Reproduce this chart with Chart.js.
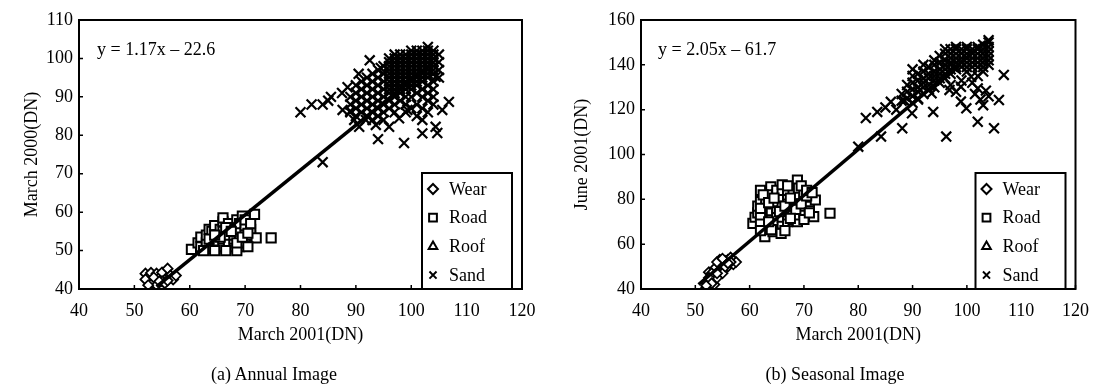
<!DOCTYPE html>
<html>
<head>
<meta charset="utf-8">
<script src="https://cdn.jsdelivr.net/npm/chart.js@4.4.1/dist/chart.umd.min.js"></script>
<style>
  body { margin: 0; background: #fff; }
  #wrap { position: relative; width: 1100px; height: 388px; font-family: "Liberation Serif", serif; color: #000; }
  canvas { position: absolute; top: 0; }
  .cap { position: absolute; top: 364px; width: 300px; font-size: 18px; text-align: center; }
</style>
</head>
<body>
<div id="wrap">
  <canvas id="annual" width="550" height="388" style="left:0"></canvas>
  <canvas id="seasonal" width="550" height="388" style="left:550px"></canvas>
  <div class="cap" style="left:124px">(a) Annual Image</div>
  <div class="cap" style="left:685px">(b) Seasonal Image</div>
</div>
<script>
// legend categories
const categories = ["Wear", "Road", "Roof", "Sand"];

// tick labels
const xTicks = [40, 50, 60, 70, 80, 90, 100, 110, 120];
const annualYTicks = [40, 50, 60, 70, 80, 90, 100, 110];
const seasonalYTicks = [40, 60, 80, 100, 120, 140, 160];

// axis titles / fit equations
const xTitle = "March 2001(DN)";
const annualYTitle = "March 2000(DN)";
const seasonalYTitle = "June 2001(DN)";
const annualEquation = "y = 1.17x \u2013 22.6";
const seasonalEquation = "y = 2.05x \u2013 61.7";

// fit line end points
const annualFit = [[54, 40.6], [104, 99]];
const seasonalFit = [[50.6, 42], [103.5, 150.5]];

// (a) annual image
const annualWear = [[52, 44], [52.5, 43], [53, 44.2], [53.5, 42], [53, 41.3], [52, 42.5], [54, 44], [54.5, 43],
  [55, 44.3], [55, 42], [54, 41], [55.5, 41.5], [56, 45.3], [56.5, 43.5], [57, 42.5], [56, 42.2],
  [57.5, 43.5], [52.5, 41], [53.5, 43], [54.5, 42]];
const annualRoad = [[60.3, 50.3], [61.5, 52], [62, 53.5], [62, 51], [63, 50.5], [63, 52], [63, 54], [63.5, 55.5],
  [64, 51], [64, 53], [64, 55], [64.5, 56.5], [65, 51], [65, 52.5], [65, 54], [65.5, 55.5], [66, 57.5],
  [66, 58.5], [66, 51], [66, 53], [66, 55], [67, 51], [67, 52], [67, 54], [67, 56], [67, 57], [68, 51],
  [68, 53], [68, 54], [68, 55], [68, 56], [68.5, 58], [69, 51], [69, 52.5], [69, 54], [69, 55.5], [69, 57],
  [69.5, 59], [70, 52], [70, 53.5], [70, 55], [70, 56.5], [70, 58], [71, 54], [71, 55.5], [71, 57],
  [71.7, 59.4], [72, 53.3], [74.7, 53.3], [62.5, 50], [64.5, 50], [66.5, 50], [68.5, 50], [70.5, 51],
  [63.5, 53], [65.5, 53.5], [66.5, 56], [67.5, 55], [68.5, 52], [69.5, 53.5], [70.5, 54.5], [64.5, 54]];
const annualRoof = [];
const annualSandScatter = [[80, 86], [82, 88], [84, 88], [85, 89], [85.5, 90], [87.5, 91], [88.5, 92.5],
  [90.5, 96], [92.5, 99.5], [94.5, 97.5], [84, 73], [94, 79], [98.7, 78], [102, 80.5], [104.7, 80.6],
  [106.8, 88.7], [105.6, 86.6], [104.4, 82.2], [96, 82.2], [97.8, 84.4], [104.4, 95.2], [99.3, 86.6],
  [93.6, 82.7], [91.8, 84], [89.7, 84], [90.6, 82.2], [87.6, 86.6], [89, 86.3]];
const annualSandColumns = [
  [89, [86, 88, 90]],
  [90, [85, 87, 89, 91, 93]],
  [91, [86, 88, 90, 92, 94]],
  [92, [85, 87, 89, 91, 93, 95]],
  [93, [84, 86, 88, 90, 92, 94, 96]],
  [94, [85, 87, 89, 91, 93, 95, 97]],
  [95, [84, 86, 88, 90, 92, 94, 96, 98]],
  [96, [87, 89, 91, 92, 93, 94, 95, 96, 97, 98, 99, 100]],
  [97, [86, 88, 90, 91, 92, 93, 94, 95, 96, 97, 98, 99, 100, 101]],
  [98, [89, 91, 92, 93, 94, 95, 96, 97, 98, 99, 100, 101]],
  [99, [86, 88, 90, 92, 93, 94, 95, 96, 97, 98, 99, 100, 101]],
  [100, [87, 90, 92, 93, 94, 95, 96, 97, 98, 99, 100, 101, 102]],
  [101, [85, 88, 91, 93, 94, 95, 96, 97, 98, 99, 100, 101, 102]],
  [102, [84, 87, 90, 92, 94, 95, 96, 97, 98, 99, 100, 101, 102]],
  [103, [86, 89, 91, 93, 95, 96, 97, 98, 99, 100, 101, 102, 103]],
  [104, [88, 90, 92, 94, 96, 97, 98, 99, 100, 101, 102]],
  [105, [95, 97, 99, 101]]
];

// (b) seasonal image
const seasonalWear = [[52, 40.5], [52.5, 41.5], [53, 40], [53.5, 42], [52, 43], [53, 44], [53.5, 46], [52.5, 47.5],
  [54, 48], [54, 50], [55, 49], [55, 51], [55.5, 52.5], [56, 50], [56, 53], [57, 51], [57.5, 52],
  [54.5, 53], [56.5, 54], [55, 47], [53.5, 49], [54, 45], [54.5, 51], [55.5, 50], [56.5, 52], [54, 52],
  [55, 53.5], [53, 47], [52.5, 45], [53, 42.5], [52, 41.5], [54, 47], [56, 51.5]];
const seasonalRoad = [[60.6, 69.3], [61, 72], [61.5, 74], [61.5, 77], [62, 79], [62.8, 63.3], [63, 68], [63, 71],
  [63, 73], [63, 75], [63, 77], [63, 80], [63.9, 85.6], [64, 82], [64.3, 65.6], [64, 69], [64, 72], [64, 75],
  [64, 78], [65, 67], [65, 70], [65, 73], [65, 76], [65, 79], [65, 82], [65, 84], [65.8, 64.8], [66, 69],
  [66, 72], [66, 75], [66, 78], [66, 81], [66, 84], [67, 70], [67, 73], [67, 76], [67, 79], [67, 82],
  [67, 84], [68, 71], [68, 74], [68, 77], [68, 80], [68, 83], [68.8, 88.6], [68.8, 70], [69, 73], [69, 76],
  [69, 79], [69, 82], [69, 85], [70, 74], [70, 77], [70, 80], [70, 83], [71, 76], [71, 79], [71, 81],
  [71.8, 72.3], [72.1, 79.7], [74.8, 73.8], [66.5, 66], [62, 84], [62.5, 82], [62, 70], [62, 73], [62, 76],
  [63.5, 78.5], [64.5, 80.5], [65.5, 74.5], [66.5, 77], [67.5, 80.5], [68.5, 75.5], [69.5, 78], [70.5, 81.5],
  [67.5, 71.5], [66, 86.5], [67, 86], [69.5, 86], [70.5, 84], [71.5, 83], [62, 66], [64, 66.5], [63.5, 70],
  [70, 71], [71, 74]];
const seasonalRoof = [];
const seasonalSandScatter = [[80, 103.5], [84.2, 108], [81.4, 116.3], [83.5, 119], [85, 121], [86, 123.5],
  [88.1, 111.7], [89.9, 118.4], [93.8, 119], [96.2, 108], [98.9, 123.6], [99.9, 120.6], [102, 114.6],
  [105, 111.7], [105.9, 124.3], [106.8, 135.5], [98.9, 130.2], [96.8, 128.8], [100.8, 134.7], [93.5, 127.3],
  [101.5, 127], [102.5, 124.5], [103, 122], [104, 126], [103.5, 128.5], [102, 129.5], [88.5, 124],
  [87, 120], [91, 124.5]];
const seasonalSandColumns = [
  [88, [124, 127]],
  [89, [125, 128, 131]],
  [90, [123, 126, 129, 132, 135, 138]],
  [91, [125, 128, 130, 133, 136]],
  [92, [127, 130, 132, 134, 137, 140]],
  [93, [129, 131, 134, 136, 139]],
  [94, [130, 133, 135, 137, 140, 142]],
  [95, [132, 134, 136, 138, 141, 144]],
  [96, [134, 136, 138, 140, 142, 145, 147]],
  [97, [131, 136, 138, 140, 141, 143, 145, 147]],
  [98, [128, 138, 139, 141, 143, 145, 147, 148]],
  [99, [133, 139, 141, 143, 145, 147]],
  [100, [137, 139, 141, 143, 145, 147, 148]],
  [101, [132, 139, 141, 143, 145, 147]],
  [102, [135, 139, 141, 143, 145, 147, 148]],
  [103, [137, 139, 141, 143, 145, 147, 149]],
  [104, [140, 142, 144, 146, 148, 150, 151]]
];

const toXY = pairs => pairs.map(p => ({ x: p[0], y: p[1] }));
const fromColumns = cols => cols.flatMap(c => c[1].map(y => ({ x: c[0], y: y })));

const styles = {
  Wear: { pointStyle: "rectRot", radius: 5, legendRadius: 5, width: 1.8 },
  Road: { pointStyle: "rect", radius: 6.5, legendRadius: 5.5, width: 2 },
  Roof: { pointStyle: "triangle", radius: 5, legendRadius: 5, width: 1.8 },
  Sand: { pointStyle: "crossRot", radius: 7, legendRadius: 5, width: 2.2 }
};

const font = { family: "'Liberation Serif', serif", size: 18 };

// frame, inward ticks, equation and boxed legend
const framePlugin = {
  id: "frame",
  afterDatasetsDraw(chart, args, opts) {
    const { ctx, chartArea: a, scales } = chart;
    ctx.save();
    ctx.strokeStyle = "#000";
    ctx.lineWidth = 2;
    ctx.strokeRect(a.left, a.top, a.right - a.left, a.bottom - a.top);

    ctx.lineWidth = 1.5;
    ctx.beginPath();
    scales.x.ticks.forEach(t => {
      const px = scales.x.getPixelForValue(t.value);
      ctx.moveTo(px, a.bottom);
      ctx.lineTo(px, a.bottom - 4);
    });
    scales.y.ticks.forEach(t => {
      const py = scales.y.getPixelForValue(t.value);
      ctx.moveTo(a.left, py);
      ctx.lineTo(a.left + 4, py);
    });
    ctx.stroke();

    ctx.fillStyle = "#000";
    ctx.font = "18px 'Liberation Serif'";
    ctx.textBaseline = "alphabetic";
    ctx.fillText(opts.equation, a.left + opts.eqX, a.top + 35);

    const bw = 90, bh = 116;
    const bx = a.right - 10 - bw, by = a.bottom - bh;
    ctx.fillStyle = "#fff";
    ctx.fillRect(bx, by, bw, bh);
    ctx.lineWidth = 2;
    ctx.strokeRect(bx, by, bw, bh);
    ctx.textBaseline = "middle";
    categories.forEach((name, i) => {
      const cy = by + 16 + i * 28.7;
      const s = styles[name];
      ctx.fillStyle = "#fff";
      ctx.strokeStyle = "#000";
      Chart.helpers.drawPoint(ctx, { pointStyle: s.pointStyle, radius: s.legendRadius, rotation: 0, borderWidth: 1.8 }, bx + 11, cy);
      ctx.fillStyle = "#000";
      ctx.fillText(name, bx + 27, cy + 1);
    });
    ctx.restore();
  }
};

const makeChart = (id, sets, fit, yTicks, yTitle, equation, eqX, yWidth, padRight) => {
  const datasets = [{
    data: toXY(fit),
    showLine: true,
    borderColor: "#000",
    borderWidth: 3.5,
    pointRadius: 0
  }];
  categories.forEach((name, i) => {
    const s = styles[name];
    datasets.push({
      label: name,
      data: sets[i],
      pointStyle: s.pointStyle,
      pointRadius: s.radius,
      pointBorderWidth: s.width,
      borderColor: "#000",
      backgroundColor: "#fff"
    });
  });

  return new Chart(document.getElementById(id), {
    type: "scatter",
    data: { datasets: datasets },
    options: {
      responsive: false,
      animation: false,
      devicePixelRatio: 1,
      layout: { padding: { left: 0, top: 20, right: padRight, bottom: 39 } },
      plugins: {
        legend: { display: false },
        tooltip: { enabled: false },
        frame: { equation: equation, eqX: eqX }
      },
      scales: {
        x: {
          type: "linear",
          min: xTicks[0],
          max: xTicks[xTicks.length - 1],
          afterBuildTicks: s => { s.ticks = xTicks.map(v => ({ value: v })); },
          afterFit: s => { s.height = 60; },
          grid: { display: false, drawTicks: false },
          border: { display: false },
          ticks: { font: font, color: "#000", padding: 11, autoSkip: false, maxRotation: 0 },
          title: { display: true, text: xTitle, font: font, color: "#000", padding: { top: 0, bottom: 3 } }
        },
        y: {
          type: "linear",
          min: yTicks[0],
          max: yTicks[yTicks.length - 1],
          afterBuildTicks: s => { s.ticks = yTicks.map(v => ({ value: v })); },
          afterFit: s => { s.width = yWidth; },
          grid: { display: false, drawTicks: false },
          border: { display: false },
          ticks: { font: font, color: "#000", padding: 6, autoSkip: false },
          title: { display: true, text: yTitle, font: font, color: "#000", padding: { top: 21, bottom: 0 } }
        }
      }
    },
    plugins: [framePlugin]
  });
};

makeChart("annual",
  [toXY(annualWear), toXY(annualRoad), toXY(annualRoof), toXY(annualSandScatter).concat(fromColumns(annualSandColumns))],
  annualFit, annualYTicks, annualYTitle, annualEquation, 18, 79, 28);

makeChart("seasonal",
  [toXY(seasonalWear), toXY(seasonalRoad), toXY(seasonalRoof), toXY(seasonalSandScatter).concat(fromColumns(seasonalSandColumns))],
  seasonalFit, seasonalYTicks, seasonalYTitle, seasonalEquation, 17, 91, 17);
</script>
</body>
</html>
